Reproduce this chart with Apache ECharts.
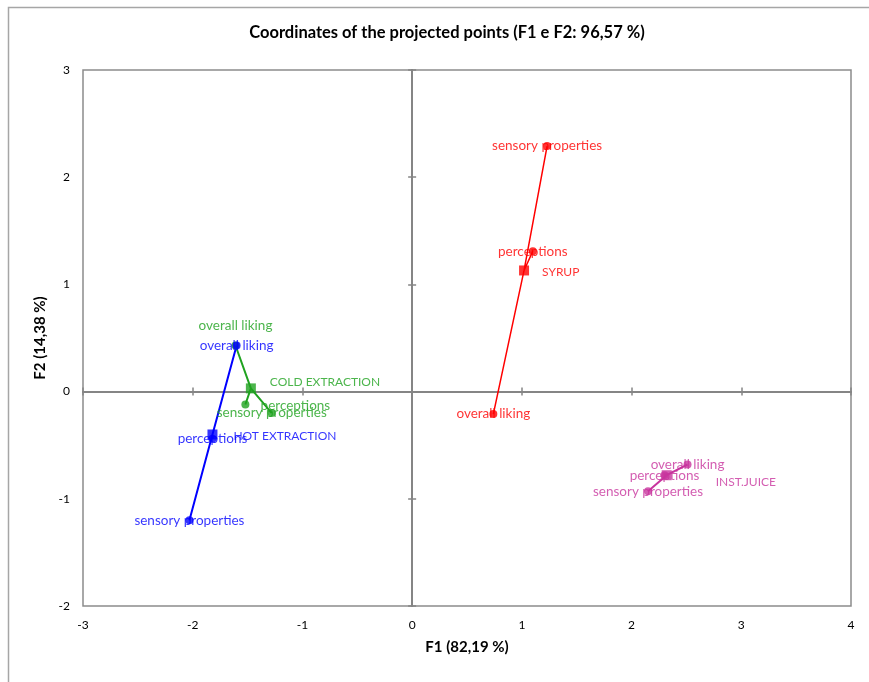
<!DOCTYPE html>
<html>
<head>
<meta charset="utf-8">
<script src="https://cdn.jsdelivr.net/npm/echarts@6/dist/echarts.min.js"></script>
<style>
  html, body { margin: 0; padding: 0; background: #fff; }
  #chart { width: 869px; height: 682px; }
</style>
</head>
<body>
<div id="chart"></div>
<script>
// Attribute points and product centroids on the first two factors
const attributes = ['overall liking', 'perceptions', 'sensory properties'];
const products = ['SYRUP', 'COLD EXTRACTION', 'HOT EXTRACTION', 'INST.JUICE'];

const syrupF1 = [0.74, 1.10, 1.23];
const syrupF2 = [-0.21, 1.31, 2.29];
const coldF1 = [-1.61, -1.52, -1.28];
const coldF2 = [0.43, -0.12, -0.20];
const hotF1 = [-1.60, -1.82, -2.03];
const hotF2 = [0.43, -0.44, -1.20];
const juiceF1 = [2.51, 2.30, 2.15];
const juiceF2 = [-0.68, -0.78, -0.93];

const productF1 = [1.02, -1.47, -1.82, 2.32];
const productF2 = [1.13, 0.03, -0.40, -0.78];

const xTicks = [-3, -2, -1, 0, 1, 2, 3, 4];
const yTicks = [-2, -1, 0, 1, 2, 3];

const FONT = 'Lato, "Open Sans", sans-serif';
const LABEL_SIZE = 13.5;
const PRODUCT_LABEL_SIZE = 12;

// drawing order: later groups sit on top
const groups = [
  { product: 1, f1: coldF1, f2: coldF2, color: '#1fa21f', width: 2,
    pointOffsets: [[0, -20], [50, 1], [0, 0]], nameOffset: [0, -6], nameDist: 14 },
  { product: 2, f1: hotF1, f2: hotF2, color: '#0000ff', width: 2,
    pointOffsets: [[0, 0], [0, 0], [0, 0]], nameOffset: [0, 2], nameDist: 16 },
  { product: 0, f1: syrupF1, f2: syrupF2, color: '#ff0000', width: 1.5,
    pointOffsets: [[0, 0], [0, 0], [0, 0]], nameOffset: [0, 2], nameDist: 13 },
  { product: 3, f1: juiceF1, f2: juiceF2, color: '#c8349e', width: 2,
    pointOffsets: [[0, 0], [0, 0], [0, 0]], nameOffset: [0, 7], nameDist: 44 }
];

const series = [];
groups.forEach(function (g) {
  const c = [productF1[g.product], productF2[g.product]];
  const star = [];
  attributes.forEach(function (a, i) {
    star.push(c, [g.f1[i], g.f2[i]]);
  });
  series.push({
    type: 'line', data: star, symbol: 'none', silent: true,
    lineStyle: { color: g.color, width: g.width }, z: 3
  });
  series.push({
    type: 'scatter', symbol: 'circle', symbolSize: 8,
    itemStyle: { color: g.color }, z: 4,
    data: attributes.map(function (a, i) {
      return {
        value: [g.f1[i], g.f2[i]],
        name: a,
        label: { offset: g.pointOffsets[i] }
      };
    }),
    label: {
      show: true, position: 'inside', formatter: '{b}',
      color: g.color, fontFamily: FONT, fontSize: LABEL_SIZE
    }
  });
  series.push({
    type: 'scatter', symbol: 'rect', symbolSize: 10,
    itemStyle: { color: g.color }, z: 4,
    data: [{ value: c, name: products[g.product] }],
    label: {
      show: true, position: 'right', distance: g.nameDist, offset: g.nameOffset,
      formatter: '{b}', color: g.color, fontFamily: FONT, fontSize: PRODUCT_LABEL_SIZE
    }
  });
});

const axisGray = '#858585';
function zeroX(inside) {
  return {
    type: 'value', min: xTicks[0], max: xTicks[xTicks.length - 1], interval: 1,
    axisLine: { show: true, onZero: true, onZeroAxisIndex: 0, lineStyle: { color: axisGray, width: 2 } },
    axisTick: { show: true, inside: inside, length: 4, lineStyle: { color: axisGray, width: 1.5 } },
    axisLabel: { show: false }, splitLine: { show: false }
  };
}
function zeroY(inside) {
  return {
    type: 'value', min: yTicks[0], max: yTicks[yTicks.length - 1], interval: 1,
    axisLine: { show: true, onZero: true, onZeroAxisIndex: 0, lineStyle: { color: axisGray, width: 2 } },
    axisTick: { show: true, inside: inside, length: 4, lineStyle: { color: axisGray, width: 1.5 } },
    axisLabel: { show: false }, splitLine: { show: false }
  };
}

const chart = echarts.init(document.getElementById('chart'), null, { renderer: 'canvas' });
chart.setOption({
  animation: false,
  backgroundColor: '#ffffff',
  title: {
    text: 'Coordinates of the projected points (F1 e F2: 96,57 %)',
    left: 442, top: 19, textAlign: 'center',
    textStyle: { fontFamily: FONT, fontSize: 16.5, fontWeight: 'bold', color: '#000' }
  },
  graphic: [{
    type: 'rect', shape: { x: 8.5, y: 7.5, width: 900, height: 700 },
    style: { fill: 'none', stroke: '#a6a6a6', lineWidth: 1.5 }, silent: true
  }],
  grid: {
    left: 83, top: 70, width: 768, height: 536,
    show: true, borderColor: '#8c8c8c', borderWidth: 1.5, backgroundColor: 'transparent'
  },
  xAxis: [
    {
      type: 'value', position: 'bottom', min: xTicks[0], max: xTicks[xTicks.length - 1], interval: 1,
      axisLine: { show: false, onZero: false }, axisTick: { show: false }, splitLine: { show: false },
      axisLabel: { margin: 13, color: '#000', fontFamily: FONT, fontSize: 12 },
      name: 'F1 (82,19 %)', nameLocation: 'middle', nameGap: 34,
      nameTextStyle: { fontFamily: FONT, fontSize: 15, fontWeight: 'bold', color: '#000' }
    },
    zeroX(false), zeroX(true)
  ],
  yAxis: [
    {
      type: 'value', position: 'left', min: yTicks[0], max: yTicks[yTicks.length - 1], interval: 1,
      axisLine: { show: false, onZero: false }, axisTick: { show: false }, splitLine: { show: false },
      axisLabel: { margin: 13, color: '#000', fontFamily: FONT, fontSize: 12 },
      name: 'F2 (14,38 %)', nameLocation: 'middle', nameGap: 30, nameRotate: 90,
      nameTextStyle: { fontFamily: FONT, fontSize: 15, fontWeight: 'bold', color: '#000' }
    },
    zeroY(false), zeroY(true)
  ],
  series: series
});
</script>
</body>
</html>
